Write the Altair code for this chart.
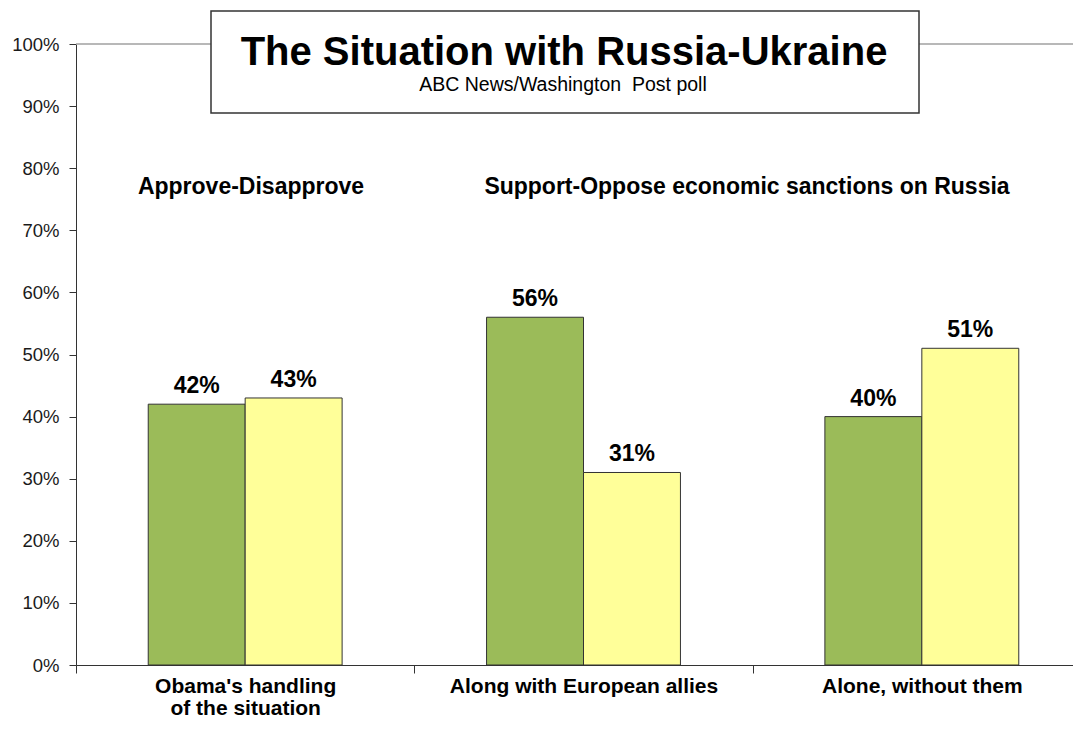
import altair as alt
import pandas as pd

categories = ["Obama's handling|of the situation", "Along with European allies", "Alone, without them"]
series = ["Approve/Support", "Disapprove/Oppose"]
approve_support = [42, 56, 40]
disapprove_oppose = [43, 31, 51]
colors = ["#9BBB59", "#FFFF99"]

title = "The Situation with Russia-Ukraine"
subtitle = "ABC News/Washington\u00a0 Post poll"
header_left = "Approve-Disapprove"
header_right = "Support-Oppose economic sanctions on Russia"

rows = []
for i, c in enumerate(categories):
    rows.append({"cat": c, "series": series[0], "value": approve_support[i] / 100})
    rows.append({"cat": c, "series": series[1], "value": disapprove_oppose[i] / 100})
df = pd.DataFrame(rows)

FONT = "Liberation Sans"

x_enc = alt.X("cat:N", sort=categories, title=None,
              scale=alt.Scale(paddingInner=0, paddingOuter=0, range=[0, 1015]),
              axis=alt.Axis(labelAngle=0, tickBand="extent", labelFont=FONT, labelFontSize=21,
                            labelFontWeight="bold", labelColor="#000", labelPadding=2,
                            labelExpr="split(datum.label, '|')", labelLineHeight=22.5,
                            labelLimit=0, tickSize=8, tickColor="#333", domainColor="#333",
                            labelBaseline="top"))
xoff = alt.XOffset("series:N", sort=series, scale=alt.Scale(paddingInner=0, paddingOuter=0.745))
y_enc = alt.Y("value:Q", title=None,
              scale=alt.Scale(domain=[0, 1], nice=False),
              axis=alt.Axis(values=[i / 10 for i in range(11)], format=".0%", grid=False,
                            labelFont=FONT, labelFontSize=18.5, labelColor="#1a1a1a",
                            tickSize=7, labelPadding=10, tickColor="#333", domainColor="#333"))

base = alt.Chart(df)

top_rule = alt.Chart(pd.DataFrame({"v": [1.0]})).mark_rule(color="#A0A0A0", strokeWidth=1.5).encode(
    y=alt.Y("v:Q"))

bars = base.mark_bar(stroke="#333", strokeWidth=1).encode(
    x=x_enc, xOffset=xoff, y=y_enc,
    color=alt.Color("series:N", sort=series, scale=alt.Scale(domain=series, range=colors), legend=None))

labels = base.mark_text(font=FONT, fontSize=23, fontWeight="bold", baseline="alphabetic", dy=-11, color="#000").encode(
    x=alt.X("cat:N", sort=categories), xOffset=alt.XOffset("series:N", sort=series), y="value:Q",
    text=alt.Text("value:Q", format=".0%"))

box = alt.Chart(pd.DataFrame({"a": [0]})).mark_rect(fill="white", stroke="#333", strokeWidth=1.5).encode(
    x=alt.value(135), x2=alt.value(843), y=alt.value(-33), y2=alt.value(69))

def txt(s, x, y, size, weight):
    return alt.Chart(pd.DataFrame({"t": [s]})).mark_text(
        font=FONT, fontSize=size, fontWeight=weight, align="center", baseline="alphabetic", color="#000"
    ).encode(x=alt.value(x), y=alt.value(y), text="t:N")

t1 = txt(title, 488, 21, 40, "bold")
t2 = txt(subtitle, 487, 47, 19.5, "normal")
h1 = txt(header_left, 175, 150, 23, "bold")
h2 = txt(header_right, 671, 150, 23, "bold")

chart = alt.layer(top_rule, bars, labels, box, t1, t2, h1, h2).properties(
    width=997, height=621,
    autosize=alt.AutoSizeParams(type="none"),
    padding={"left": 68, "top": 36, "right": 0, "bottom": 56},
    background="white",
).configure_view(stroke=None)

chart.save("out.html", embed_options={"renderer": "svg", "actions": False})
